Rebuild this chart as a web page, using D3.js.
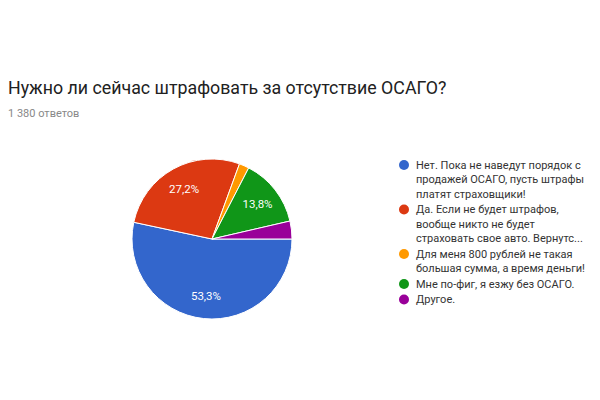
<!DOCTYPE html>
<html>
<head>
<meta charset="utf-8">
<script src="https://cdn.jsdelivr.net/npm/d3@7"></script>
<style>
  body { margin: 0; background: #fff; }
  svg { font-family: Roboto, Arial, sans-serif; }
</style>
</head>
<body>
<svg id="chart" width="600" height="400"></svg>
<script>
// answers and shares (percent)
var labels = [
  ["Нет. Пока не наведут порядок с", "продажей ОСАГО, пусть штрафы", "платят страховщики!"],
  ["Да. Если не будет штрафов,", "вообще никто не будет", "страховать свое авто. Вернутс..."],
  ["Для меня 800 рублей не такая", "большая сумма, а время деньги!"],
  ["Мне по-фиг, я езжу без ОСАГО."],
  ["Другое."]
];
var values = [53.3, 27.2, 2.0, 13.8, 3.6];
var shown = ["53,3%", "27,2%", "", "13,8%", ""];
var colors = ["#3366cc", "#dc3912", "#ff9900", "#109618", "#990099"];

var svg = d3.select("#chart");

// title
svg.append("text")
  .attr("x", 8).attr("y", 94)
  .attr("font-size", 17.8)
  .attr("fill", "#212121")
  .text("Нужно ли сейчас штрафовать за отсутствие ОСАГО?");

svg.append("text")
  .attr("x", 8).attr("y", 117)
  .attr("font-size", 11)
  .attr("fill", "#888")
  .text("1 380 ответов");

// pie
var cx = 212, cy = 239, r = 80;
var pie = d3.pie().sort(null)
  .startAngle(Math.PI / 2)
  .endAngle(Math.PI / 2 + 2 * Math.PI);
var arc = d3.arc().innerRadius(0).outerRadius(r);
var labelArc = d3.arc().innerRadius(r * 0.72).outerRadius(r * 0.72);

var g = svg.append("g").attr("transform", "translate(" + cx + "," + cy + ")");
var arcs = pie(values);

g.selectAll("path")
  .data(arcs)
  .enter().append("path")
  .attr("d", arc)
  .attr("fill", function(d, i) { return colors[i]; })
  .attr("stroke", "#fff")
  .attr("stroke-width", 1);

g.selectAll("text.pct")
  .data(arcs)
  .enter().append("text")
  .attr("class", "pct")
  .attr("transform", function(d) { return "translate(" + labelArc.centroid(d) + ")"; })
  .attr("text-anchor", "middle")
  .attr("dy", "0.35em")
  .attr("font-size", 11.5)
  .attr("fill", "#fff")
  .text(function(d, i) { return shown[i]; });

// legend
var lx = 404, ly = 165, lh = 14.5, gap = 1;
var legend = svg.append("g");
var y = ly;
labels.forEach(function(lines, i) {
  legend.append("circle")
    .attr("cx", lx).attr("cy", y)
    .attr("r", 5)
    .attr("fill", colors[i]);
  lines.forEach(function(t, j) {
    legend.append("text")
      .attr("x", lx + 12).attr("y", y + j * lh)
      .attr("dy", "0.35em")
      .attr("font-size", 11)
      .attr("fill", "#333")
      .text(t);
  });
  y += lines.length * lh + gap;
});
</script>
</body>
</html>
